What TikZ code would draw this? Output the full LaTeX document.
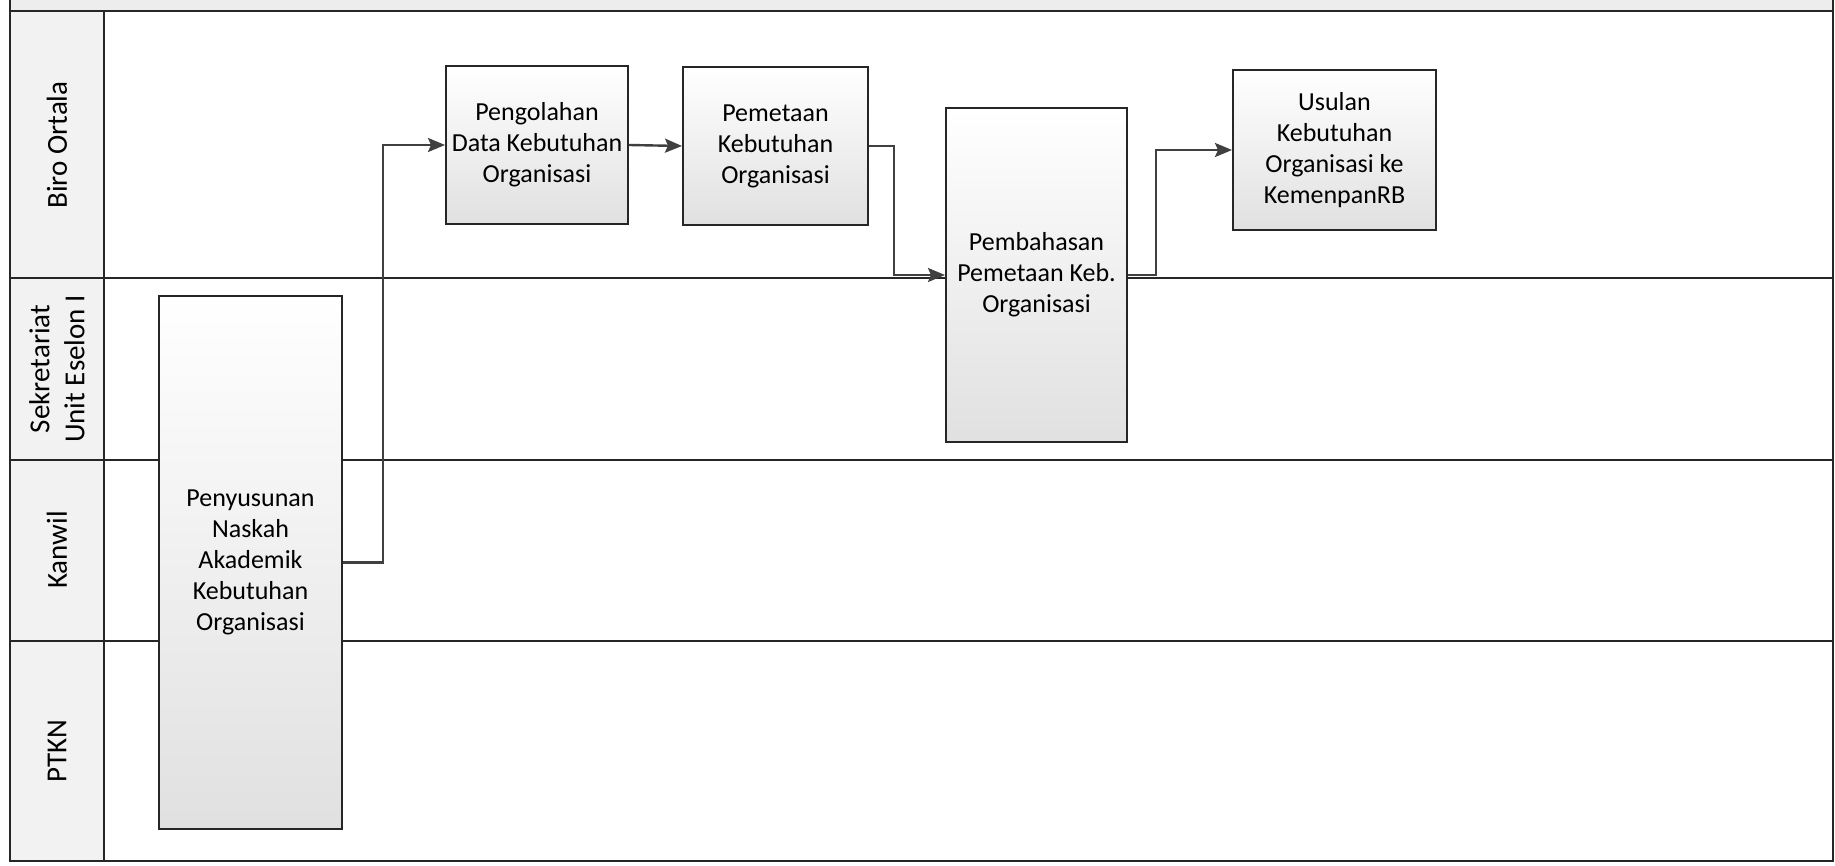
\documentclass[tikz,border=0pt]{standalone}
\usepackage{fontspec}
\setmainfont{Carlito}
\usetikzlibrary{arrows.meta}
\begin{document}
\begin{tikzpicture}[x=0.5pt,y=-0.5pt,
  lane/.style={draw=black!85,line width=0.8pt},
  proc/.style={draw=black!85,line width=1pt,top color=white,bottom color=black!12,
    align=center,font=\fontsize{13}{15.5}\selectfont,inner sep=0pt},
  conn/.style={draw=black!75,line width=1.2pt,-{Stealth[length=8.5pt,width=7pt,inset=1.5pt]}},
  lanelabel/.style={rotate=90,align=center,font=\fontsize{14.5}{17.5}\selectfont}]
\useasboundingbox (0,0) rectangle (1835,866);
\fill[white] (0,0) rectangle (1835,866);
\fill[black!7] (10,0) rectangle (1833,11);
\fill[black!5] (10,11) rectangle (104,861);
\draw[lane] (10,0) -- (10,861) -- (1833,861) -- (1833,0);
\draw[lane] (10,11) -- (1833,11);
\draw[lane] (104,11) -- (104,861);
\draw[lane] (10,278) -- (1833,278);
\draw[lane] (10,460) -- (1833,460);
\draw[lane] (10,641) -- (1833,641);

\node[lanelabel] (lbiro) at (57,145) {Biro Ortala};
\node[lanelabel] (lsek) at (57,369) {Sekretariat\\Unit Eselon I};
\node[lanelabel] (lkan) at (57,550) {Kanwil};
\node[lanelabel] (lptkn) at (57,751) {PTKN};

\node[proc,minimum width=91.5pt,minimum height=266.5pt] (pen) at (250.5,562.5)
  {Penyusunan\\Naskah\\Akademik\\Kebutuhan\\Organisasi};
\node[proc,minimum width=91pt,minimum height=79pt] (peng) at (537,145)
  {Pengolahan\\Data Kebutuhan\\Organisasi};
\node[proc,minimum width=92.5pt,minimum height=79pt] (pem) at (775.5,146)
  {Pemetaan\\Kebutuhan\\Organisasi};
\node[proc,minimum width=90.5pt,minimum height=167pt] (bah) at (1036.5,275)
  {Pembahasan\\Pemetaan Keb.\\Organisasi};
\node[proc,minimum width=101.5pt,minimum height=80pt] (usu) at (1334.5,150)
  {Usulan\\Kebutuhan\\Organisasi ke\\KemenpanRB};

\draw[conn] (pen.east) -- ++(40,0) |- (peng.west);
\draw[conn] (peng.east) -- (pem.west);
\draw[conn] (pem.east) -- ++(25,0) |- (bah.west);
\draw[conn] (bah.east) -- ++(28,0) |- (usu.west);
\end{tikzpicture}
\end{document}
